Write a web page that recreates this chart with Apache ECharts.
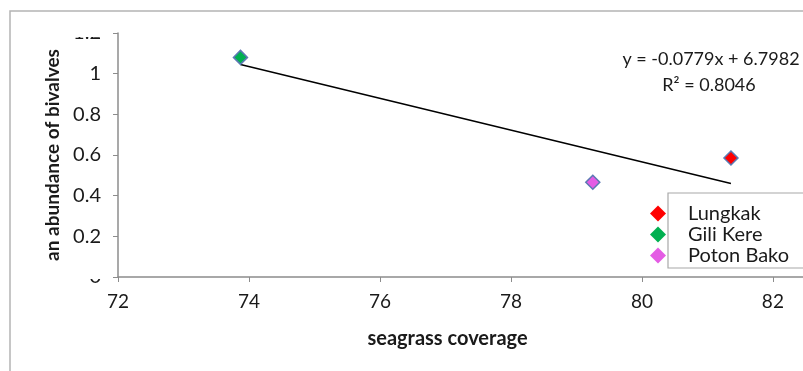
<!DOCTYPE html>
<html><head><meta charset="utf-8">
<script src="https://cdn.jsdelivr.net/npm/echarts@6/dist/echarts.min.js"></script>
<style>html,body{margin:0;padding:0;background:#fff}#c{width:803px;height:371px}</style>
</head><body><div id="c"></div>
<script>
const siteNames = ['Lungkak', 'Gili Kere', 'Poton Bako'];
const seagrassCoverage = [81.36, 73.87, 79.25];
const bivalveAbundance = [0.585, 1.08, 0.466];
const siteColors = ['#ff0000', '#00b050', '#e45ce4'];
const trendX = [73.87, 81.36];
const trendY = [1.045, 0.46];
const xTicks = [72, 74, 76, 78, 80, 82];
const yTicks = [0, 0.2, 0.4, 0.6, 0.8, 1, 1.2];
const equationText = 'y = -0.0779x + 6.7982';
const r2Text = 'R\u00b2 = 0.8046';

const FONT = 'Lato';
const chart = echarts.init(document.getElementById('c'));
const series = siteNames.map((n, i) => ({
  name: n, type: 'scatter', symbol: 'diamond', symbolSize: 14,
  itemStyle: {color: siteColors[i], borderColor: '#5b79b3', borderWidth: 1.5, opacity: 1},
  data: [[seagrassCoverage[i], bivalveAbundance[i]]], z: 3
}));
series.push({
  type: 'line', name: 'trend', symbol: 'none', silent: true,
  lineStyle: {color: '#000', width: 1.5},
  data: trendX.map((x, i) => [x, trendY[i]]), z: 2
});
chart.setOption({
  animation: false,
  grid: {left: 118, top: 33, right: 0, bottom: 94},
  xAxis: {
    type: 'value', min: 72, max: 82.46,
    splitLine: {show: false},
    axisLine: {lineStyle: {color: '#8c8c8c', width: 1.5}},
    axisTick: {length: 5, lineStyle: {color: '#8c8c8c'}, customValues: xTicks},
    axisLabel: {fontFamily: FONT, fontSize: 19, color: '#1a1a1a', margin: 15, customValues: xTicks},
    name: 'seagrass coverage', nameLocation: 'middle', nameGap: 52,
    nameTextStyle: {fontFamily: FONT, fontSize: 20, fontWeight: 'bold', color: '#1a1a1a', padding: [0, 26, 0, 0]}
  },
  yAxis: {
    type: 'value', min: 0, max: 1.2, interval: 0.2,
    splitLine: {show: false},
    axisLine: {show: true, lineStyle: {color: '#8c8c8c', width: 1.5}},
    axisTick: {show: true, length: 5, lineStyle: {color: '#8c8c8c'}},
    axisLabel: {fontFamily: FONT, fontSize: 20, color: '#1a1a1a', margin: 17,
      formatter: v => { const t = yTicks.find(u => Math.abs(u - v) < 1e-9); return t === undefined ? '' : String(t); }},
    name: 'an abundance of bivalves', nameLocation: 'middle', nameGap: 56,
    nameTextStyle: {fontFamily: FONT, fontSize: 19, fontWeight: 'bold', color: '#1a1a1a'}
  },
  legend: {
    orient: 'vertical', left: 645, top: 198, itemGap: 0,
    itemWidth: 16, itemHeight: 16, icon: 'diamond',
    textStyle: {fontFamily: FONT, fontSize: 20, lineHeight: 21, color: '#1a1a1a', padding: [0, 0, 0, 17]},
    data: siteNames.map((n, i) => ({name: n, itemStyle: {color: siteColors[i], borderWidth: 0}})),
    z: 10
  },
  graphic: [
    {type: 'rect', shape: {x: 10, y: 11, width: 900, height: 500},
      style: {fill: 'none', stroke: '#b4b4b4', lineWidth: 1.5}, z: 0, silent: true},
    {type: 'rect', shape: {x: 668, y: 193, width: 200, height: 75},
      style: {fill: '#fff', stroke: '#a8a8a8', lineWidth: 1.2}, z: 5, silent: true},
    {type: 'rect', shape: {x: 60, y: 14, width: 48, height: 23},
      style: {fill: '#fff'}, z: 100, silent: true},
    {type: 'rect', shape: {x: 80, y: 265, width: 28, height: 14},
      style: {fill: '#fff'}, z: 100, silent: true},
    {type: 'text', x: 711, y: 59, z: 20,
      style: {text: equationText, fontFamily: FONT, fontSize: 18, fill: '#1a1a1a', align: 'center', verticalAlign: 'middle'}},
    {type: 'text', x: 709, y: 85, z: 20,
      style: {text: r2Text, fontFamily: FONT, fontSize: 18, fill: '#1a1a1a', align: 'center', verticalAlign: 'middle'}}
  ],
  series: series
});
</script></body></html>
